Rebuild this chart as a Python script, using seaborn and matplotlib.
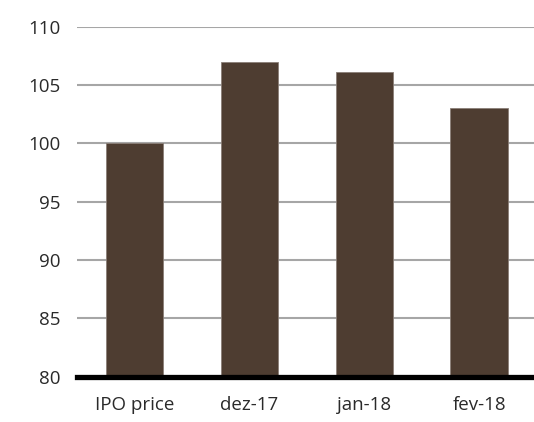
import matplotlib.pyplot as plt
import seaborn as sns
import pandas as pd

categories = ['IPO price', 'dez-17', 'jan-18', 'fev-18']
values = [100, 107, 106.1, 103]
yticks = [80, 85, 90, 95, 100, 105, 110]

df = pd.DataFrame({'period': categories, 'value': values})

sns.set_style('white')
plt.rcParams['font.family'] = ['Open Sans', 'DejaVu Sans']

fig = plt.figure(figsize=(5.34, 4.22), dpi=100)
ax = fig.add_axes([77 / 534, 45.3 / 422, 1 - 77 / 534 + 0.005, (376.7 - 26.7) / 422])

sns.barplot(data=df, x='period', y='value', color='#4e3d31', saturation=1,
            width=0.5, edgecolor='#8a7f77', linewidth=0.6, ax=ax, zorder=3)

ax.set_ylim(80, 110)
ax.set_xlim(-0.5, 3.5)
ax.set_yticks(yticks)
ax.yaxis.grid(True, color='#a6a6a6', linewidth=1.5, zorder=0)
ax.set_axisbelow(True)
ax.set_xlabel('')
ax.set_ylabel('')
for s in ['top', 'right', 'left']:
    ax.spines[s].set_visible(False)
ax.spines['bottom'].set_color('black')
ax.spines['bottom'].set_linewidth(3.8)
ax.spines['bottom'].set_zorder(5)
ax.tick_params(axis='both', length=0, labelsize=13.5, colors='#2a2a2a')
ax.tick_params(axis='y', pad=12)
ax.tick_params(axis='x', pad=14)

fig.savefig('out.png', dpi=100)
